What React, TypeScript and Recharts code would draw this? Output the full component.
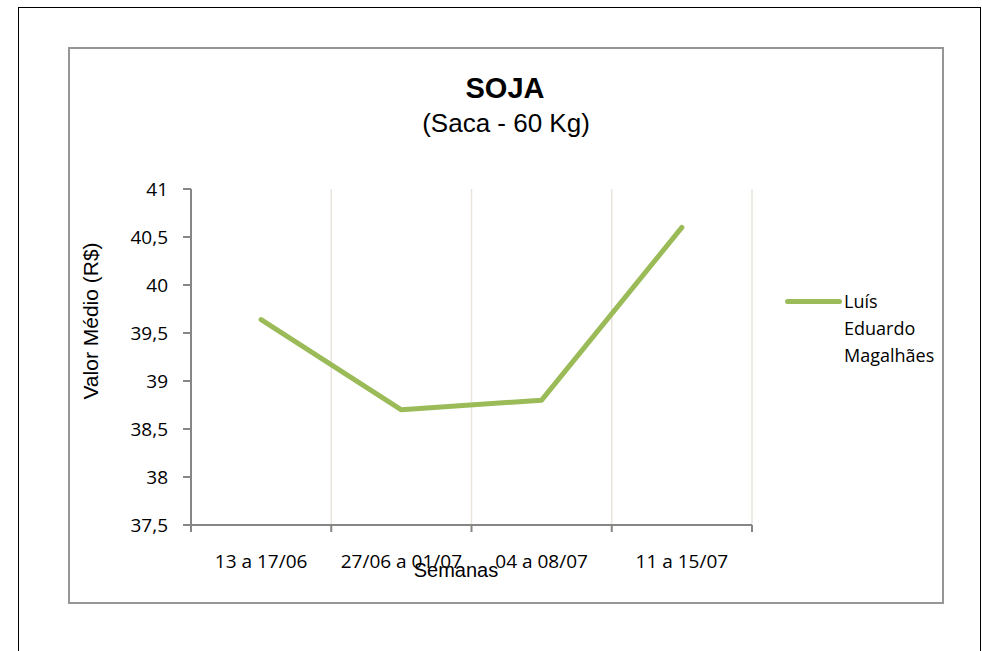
import { CartesianGrid, Legend, Line, LineChart, XAxis, YAxis } from "recharts";

const categories = ["13 a 17/06", "27/06 a 01/07", "04 a 08/07", "11 a 15/07"];
const values = [39.64, 38.7, 38.8, 40.6];
const yTicks = [37.5, 38, 38.5, 39, 39.5, 40, 40.5, 41];
const boundaryTicks = [0, 1, 2, 3, 4];
const centerTicks = [0.5, 1.5, 2.5, 3.5];
const seriesName = "Luís Eduardo Magalhães";

const data = categories.map((c, i) => ({ x: i + 0.5, semana: c, valor: values[i] }));

const GREEN = "#9BBB59";
const AXIS = "#868686";
const TICK_FONT = "'Open Sans', sans-serif";
const ARIAL = "'Liberation Sans', Arial, sans-serif";

function LegendBox() {
  return (
    <div style={{ display: "flex", alignItems: "flex-start", fontFamily: TICK_FONT, fontSize: 18, color: "#000" }}>
      <div style={{ width: 57, height: 5, borderRadius: 3, background: GREEN, marginTop: 11, marginRight: 2 }} />
      <div style={{ width: 96, lineHeight: "27px" }}>{seriesName}</div>
    </div>
  );
}

export default function App() {
  return (
    <div
      style={{
        position: "absolute",
        left: 0,
        top: 0,
        width: 982,
        height: 651,
        overflow: "hidden",
        background: "#fff",
      }}
    >
      {/* outer frame (bottom edge falls off the page) */}
      <div style={{ position: "absolute", left: 18, top: 7, width: 961, height: 700, border: "1px solid #000" }} />
      {/* chart area frame */}
      <div style={{ position: "absolute", left: 68, top: 47, width: 872, height: 553, border: "2px solid #969696" }} />

      <div style={{ position: "absolute", left: 0, top: 0 }}>
        <LineChart width={982} height={651} data={data} margin={{ top: 189, right: 230, bottom: 95, left: 131 }}>
          <CartesianGrid horizontal={false} stroke="#E9E5DC" strokeWidth={1.5} />
          <XAxis
            dataKey="x"
            type="number"
            domain={[0, 4]}
            ticks={boundaryTicks}
            interval={0}
            height={1}
            tick={() => <g />}
            tickSize={7}
            axisLine={{ stroke: AXIS, strokeWidth: 2 }}
            tickLine={{ stroke: AXIS, strokeWidth: 2 }}
          />
          <XAxis
            xAxisId="labels"
            dataKey="x"
            type="number"
            domain={[0, 4]}
            ticks={centerTicks}
            interval={0}
            height={30}
            axisLine={false}
            tickLine={false}
            tickSize={0}
            tickMargin={29}
            tickFormatter={(v: number) => categories[Math.floor(v)]}
            tick={{ fill: "#000", fontSize: 19, fontFamily: TICK_FONT }}
          />
          <YAxis
            type="number"
            domain={[37.5, 41]}
            ticks={yTicks}
            interval={0}
            width={60}
            tickSize={8}
            tickMargin={15}
            axisLine={{ stroke: AXIS, strokeWidth: 2 }}
            tickLine={{ stroke: AXIS, strokeWidth: 2 }}
            tickFormatter={(v: number) => String(v).replace(".", ",")}
            tick={{ fill: "#000", fontSize: 19, fontFamily: TICK_FONT }}
          />
          <Legend
            layout="horizontal"
            verticalAlign="middle"
            align="center"
            content={() => <LegendBox />}
            wrapperStyle={{ left: 785, top: 288, width: 170, height: 90 }}
          />
          <Line
            type="linear"
            dataKey="valor"
            name={seriesName}
            stroke={GREEN}
            strokeWidth={5}
            strokeLinecap="round"
            strokeLinejoin="round"
            dot={false}
            activeDot={false}
            isAnimationActive={false}
          />
        </LineChart>
      </div>

      <svg width={982} height={651} style={{ position: "absolute", left: 0, top: 0, pointerEvents: "none" }}>
        <text x={505} y={98} textAnchor="middle" fontFamily={ARIAL} fontWeight="bold" fontSize={29} fill="#000">
          SOJA
        </text>
        <text x={506} y={132} textAnchor="middle" fontFamily={ARIAL} fontSize={26} fill="#000">
          (Saca - 60 Kg)
        </text>
        <text x={456} y={577} textAnchor="middle" fontFamily={ARIAL} fontSize={20} fill="#000">
          Semanas
        </text>
        <text
          x={98}
          y={321}
          textAnchor="middle"
          fontFamily={ARIAL}
          fontSize={21}
          fill="#000"
          transform="rotate(-90 98 321)"
        >
          Valor Médio (R$)
        </text>
      </svg>
    </div>
  );
}
